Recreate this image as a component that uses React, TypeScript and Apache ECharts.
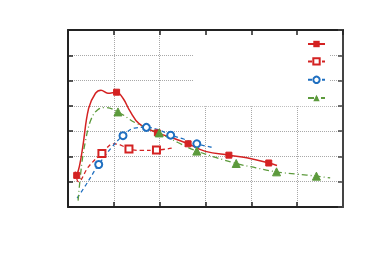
import React, { useEffect, useRef } from "react";
import * as echarts from "echarts";

// Data: [x, y, isMarker]
const redSolid: [number, number, number][] = [
  [0.19, 1.25, 1], [0.25, 1.62, 0], [0.32, 2.35, 0], [0.45, 3.9, 0], [0.6, 4.5, 0],
  [0.72, 4.62, 0], [0.87, 4.5, 0], [1.06, 4.54, 1], [1.2, 4.3, 0], [1.35, 3.8, 0],
  [1.55, 3.3, 0], [1.95, 2.93, 1], [2.3, 2.72, 0], [2.62, 2.5, 1], [3.0, 2.2, 0],
  [3.51, 2.05, 1], [3.9, 1.95, 0], [4.38, 1.74, 1], [4.56, 1.64, 0],
];
const redDashed: [number, number, number][] = [
  [0.16, 1.4, 0], [0.23, 1.0, 0], [0.45, 1.6, 0], [0.74, 2.12, 1], [1.0, 2.5, 0],
  [1.15, 2.45, 0], [1.33, 2.29, 1], [1.6, 2.24, 0], [1.93, 2.25, 1], [2.3, 2.34, 0],
];
const blueDashed: [number, number, number][] = [
  [0.2, 0.35, 0], [0.4, 0.9, 0], [0.67, 1.68, 1], [0.95, 2.35, 0], [1.2, 2.82, 1],
  [1.45, 3.12, 0], [1.71, 3.15, 1], [2.0, 3.04, 0], [2.24, 2.84, 1], [2.5, 2.7, 0],
  [2.81, 2.5, 1], [3.14, 2.36, 0],
];
const greenDashDot: [number, number, number][] = [
  [0.22, 0.25, 0], [0.3, 1.7, 0], [0.38, 2.6, 0], [0.5, 3.45, 0], [0.65, 3.85, 0],
  [0.82, 3.93, 0], [1.09, 3.76, 1], [1.5, 3.3, 0], [1.99, 2.93, 1], [2.4, 2.55, 0],
  [2.81, 2.21, 1], [3.67, 1.72, 1], [4.1, 1.55, 0], [4.55, 1.39, 1], [5.0, 1.3, 0],
  [5.42, 1.22, 1], [5.72, 1.15, 0],
];
const seriesNames = ["s1", "s2", "s3", "s4"];

const RED = "#d42222";
const BLUE = "#1f6fc0";
const GREEN = "#5c9a3c";
const AXIS = "#222";

function toData(arr: [number, number, number][]) {
  return arr.map(([x, y, m]) => (m ? { value: [x, y] } : { value: [x, y], symbol: "none" }));
}

export default function App() {
  const ref = useRef<HTMLDivElement>(null);
  useEffect(() => {
    if (!ref.current) return;
    const chart = echarts.init(ref.current, undefined, { renderer: "svg" });
    const gridAxisBase = {
      type: "value" as const,
      min: 0,
      interval: 1,
      axisLabel: { show: false },
    };
    const tick = (color: string) => ({
      show: true, inside: true, length: 5, lineStyle: { color, width: 1.5 },
    });
    const line = (color: string) => ({ show: true, onZero: false, lineStyle: { color, width: 2 } });
    const grid = { show: true, lineStyle: { color: "#a8a8a8", type: "dotted" as const, width: 1 } };
    chart.setOption({
      animation: false,
      backgroundColor: "#fff",
      grid: { left: 68, right: 27, top: 30, bottom: 49 },
      xAxis: [
        { ...gridAxisBase, max: 6, position: "bottom", z: 0, axisLine: line(AXIS), axisTick: tick(AXIS), splitLine: grid },
        { ...gridAxisBase, max: 6, position: "top", z: 10, axisLine: line(AXIS), axisTick: tick(AXIS), splitLine: { show: false } },
      ],
      yAxis: [
        { ...gridAxisBase, max: 7, position: "left", z: 0, axisLine: line(AXIS), axisTick: tick(AXIS), splitLine: grid },
        { ...gridAxisBase, max: 7, position: "right", z: 10, axisLine: line("#444"), axisTick: tick("#444"), splitLine: { show: false } },
      ],
      legend: {
        orient: "vertical",
        left: 193,
        top: 31,
        padding: [9, 4, 5, 114],
        itemWidth: 17,
        itemHeight: 8,
        itemGap: 10,
        backgroundColor: "#fff",
        formatter: () => "",
        data: seriesNames,
        z: 4,
      },
      series: [
        {
          name: seriesNames[0], type: "line", smooth: 0.4, showAllSymbol: true,
          data: toData(redSolid), symbol: "rect", symbolSize: 6,
          lineStyle: { color: RED, width: 1.5, type: "solid" },
          itemStyle: { color: RED, borderColor: RED },
        },
        {
          name: seriesNames[1], type: "line", smooth: 0.4, showAllSymbol: true,
          data: toData(redDashed), symbol: "emptyRect", symbolSize: 7,
          lineStyle: { color: RED, width: 1.3, type: [4, 3] },
          itemStyle: { color: RED, borderColor: RED, borderWidth: 1.3 },
        },
        {
          name: seriesNames[2], type: "line", smooth: 0.4, showAllSymbol: true,
          data: toData(blueDashed), symbol: "emptyCircle", symbolSize: 7,
          lineStyle: { color: BLUE, width: 1.3, type: [4, 3] },
          itemStyle: { color: BLUE, borderColor: BLUE, borderWidth: 1.3 },
        },
        {
          name: seriesNames[3], type: "line", smooth: 0.4, showAllSymbol: true,
          data: toData(greenDashDot), symbol: "triangle", symbolSize: 8,
          lineStyle: { color: GREEN, width: 1.3, type: [6, 3, 1, 3] },
          itemStyle: { color: GREEN, borderColor: GREEN },
        },
      ],
    });
    return () => chart.dispose();
  }, []);
  return (
    <div
      ref={ref}
      style={{ position: "fixed", left: 0, top: 0, width: 370, height: 256 }}
    />
  );
}
